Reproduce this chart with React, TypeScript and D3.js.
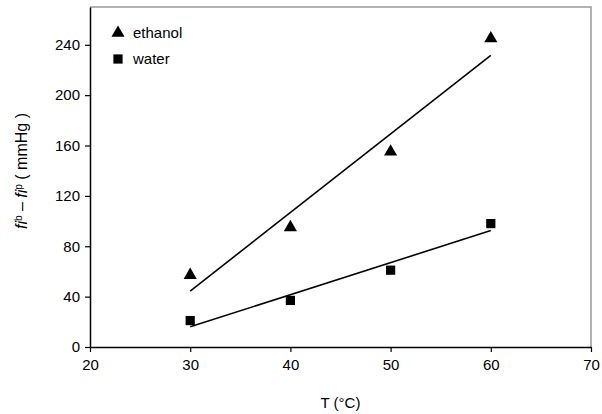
import React, { useEffect, useRef } from "react";
import * as d3 from "d3";

const temps = [30, 40, 50, 60];
const ethanol = [57, 95, 155, 245];
const water = [21, 37, 61, 98];
const xTicks = [20, 30, 40, 50, 60, 70];
const yTicks = [0, 40, 80, 120, 160, 200, 240];

const W = 602;
const H = 414;
const m = { top: 7, right: 11, bottom: 67, left: 90 };

// least squares line through the points
function fit(xs: number[], ys: number[]) {
  const mx = d3.mean(xs)!;
  const my = d3.mean(ys)!;
  const num = d3.sum(xs, (x, i) => (x - mx) * (ys[i] - my));
  const den = d3.sum(xs, (x) => (x - mx) ** 2);
  const b = num / den;
  return (x: number) => my + b * (x - mx);
}

export default function App() {
  const svgRef = useRef<SVGSVGElement>(null);

  useEffect(() => {
    const svg = d3.select(svgRef.current);
    svg.selectAll("*").remove();

    const x = d3.scaleLinear().domain([20, 70]).range([m.left, W - m.right]);
    const y = d3.scaleLinear().domain([0, 270]).range([H - m.bottom, m.top]);
    const font = "'Liberation Sans', Arial, sans-serif";

    // gray frame top/right
    svg
      .append("path")
      .attr("d", `M${x(20)},${y(270)}H${x(70)}V${y(0)}`)
      .attr("fill", "none")
      .attr("stroke", "#999")
      .attr("stroke-width", 1.5);

    const xAxis = svg
      .append("g")
      .attr("transform", `translate(0,${y(0)})`)
      .call(d3.axisBottom(x).tickValues(xTicks).tickSize(5).tickSizeOuter(0));
    const yAxis = svg
      .append("g")
      .attr("transform", `translate(${x(20)},0)`)
      .call(d3.axisLeft(y).tickValues(yTicks).tickSize(5).tickSizeOuter(0));

    [xAxis, yAxis].forEach((g) => {
      g.select(".domain").attr("stroke", "#000").attr("stroke-width", 1.5);
      g.selectAll(".tick line").attr("stroke", "#000").attr("stroke-width", 1.2);
      g.selectAll(".tick text")
        .attr("font-family", font)
        .attr("font-size", 15)
        .attr("fill", "#000");
    });
    xAxis.selectAll(".tick text").attr("dy", "1.0em");
    yAxis.selectAll(".tick text").attr("x", -10);

    const series = [
      { name: "ethanol", vals: ethanol, shape: d3.symbolTriangle, size: 75 },
      { name: "water", vals: water, shape: d3.symbolSquare, size: 85 },
    ];

    series.forEach((s) => {
      const f = fit(temps, s.vals);
      svg
        .append("line")
        .attr("x1", x(30))
        .attr("x2", x(60))
        .attr("y1", y(f(30)))
        .attr("y2", y(f(60)))
        .attr("stroke", "#000")
        .attr("stroke-width", 1.6);

      svg
        .selectAll(null)
        .data(s.vals)
        .join("path")
        .attr("d", d3.symbol(s.shape, s.size)())
        .attr("transform", (d, i) => `translate(${x(temps[i])},${y(d)})`)
        .attr("fill", "#000");
    });

    // legend
    series.forEach((s, i) => {
      const ly = 33 + i * 26;
      svg
        .append("path")
        .attr("d", d3.symbol(s.shape, s.size)())
        .attr("transform", `translate(118,${ly})`)
        .attr("fill", "#000");
      svg
        .append("text")
        .attr("x", 133)
        .attr("y", ly + 5)
        .attr("font-family", font)
        .attr("font-size", 15)
        .text(s.name);
    });

    svg
      .append("text")
      .attr("x", (x(20) + x(70)) / 2)
      .attr("y", 408)
      .attr("text-anchor", "middle")
      .attr("font-family", font)
      .attr("font-size", 15)
      .text("T (°C)");

    const yl = svg
      .append("text")
      .attr("transform", `translate(27,171) rotate(-90)`)
      .attr("text-anchor", "middle")
      .attr("font-family", font)
      .attr("font-size", 16);
    yl.append("tspan").attr("font-style", "italic").text("fi");
    yl.append("tspan").attr("font-size", 10).attr("dy", -5).text("b");
    yl.append("tspan").attr("dy", 5).text(" – ");
    yl.append("tspan").attr("font-style", "italic").text("fi");
    yl.append("tspan").attr("font-size", 10).attr("dy", -5).text("p");
    yl.append("tspan").attr("dy", 5).text(" ( mmHg )");
  }, []);

  return (
    <svg
      ref={svgRef}
      width={W}
      height={H}
      style={{ position: "absolute", left: 0, top: 0, background: "#fff" }}
    />
  );
}
